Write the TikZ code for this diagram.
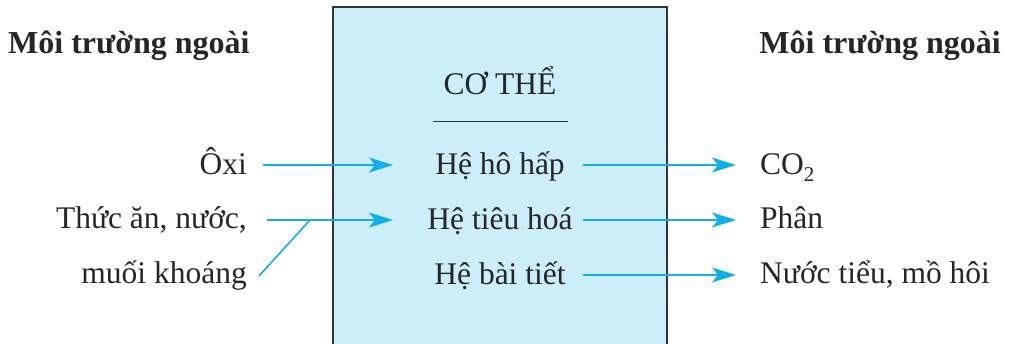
\documentclass[tikz,border=0pt]{standalone}
\usepackage{fontspec}
\setmainfont{Liberation Serif}
\usetikzlibrary{arrows.meta}
\definecolor{boxfill}{HTML}{CCEEF9}
\definecolor{arrcol}{HTML}{12AEE8}
\definecolor{boxline}{HTML}{333333}
\begin{document}
\begin{tikzpicture}[x=1pt,y=-1pt,
  txt/.style={inner sep=0pt,font=\fontsize{31.5}{34}\selectfont,text=black!85},
  head/.style={txt,font=\fontsize{32}{34}\selectfont\bfseries},
  arr/.style={draw=arrcol,line width=1.6pt,-{Stealth[length=24pt,width=15pt,inset=6pt]}},
  ln/.style={draw=arrcol,line width=1.6pt}]
\useasboundingbox (0,0) rectangle (1009,344);
\fill[boxfill] (333,7) rectangle (667,346);
\draw[boxline,line width=2pt] (333,346) -- (333,7) -- (667,7) -- (667,346);
% headers
\node[head,anchor=base west] (envL) at (8,54) {Môi trường ngoài};
\node[head,anchor=base east] (envR) at (1001,54) {Môi trường ngoài};
\node[txt,anchor=base] (body) at (500,95) {CƠ THỂ};
\coordinate (ulA) at (433,122);
\coordinate (ulB) at (568,122);
\draw[black!80,line width=1pt] (ulA) -- (ulB);
% systems
\node[txt,anchor=base] (resp) at (500,175) {Hệ hô hấp};
\node[txt,anchor=base] (dig) at (500,230) {Hệ tiêu hoá};
\node[txt,anchor=base] (exc) at (500,285) {Hệ bài tiết};
% inputs
\node[txt,anchor=base east] (oxi) at (247,175) {Ôxi};
\node[txt,anchor=base east] (food) at (247,229) {Thức ăn, nước,};
\node[txt,anchor=base east] (salt) at (247,284) {muối khoáng};
% outputs
\node[txt,anchor=base west] (co2) at (760,175) {CO\raisebox{-7pt}{\fontsize{21}{21}\selectfont 2}};
\node[txt,anchor=base west] (feces) at (760,229) {Phân};
\node[txt,anchor=base west] (urine) at (760,284) {Nước tiểu, mồ hôi};
% arrows in
\coordinate (oxiS) at (263,165);
\coordinate (oxiE) at (393,165);
\draw[arr] (oxiS) -- (oxiE);
\coordinate (foodS) at (267,220);
\coordinate (foodE) at (393,220);
\coordinate (join) at (310,220);
\coordinate (saltS) at (259,276);
\draw[arr] (foodS) -- (foodE);
\draw[ln] (saltS) -- (join);
% arrows out
\coordinate (o1S) at (583,165);
\coordinate (o1E) at (736,165);
\coordinate (o2S) at (583,220);
\coordinate (o2E) at (736,220);
\coordinate (o3S) at (583,275);
\coordinate (o3E) at (736,275);
\draw[arr] (o1S) -- (o1E);
\draw[arr] (o2S) -- (o2E);
\draw[arr] (o3S) -- (o3E);
\end{tikzpicture}
\end{document}
